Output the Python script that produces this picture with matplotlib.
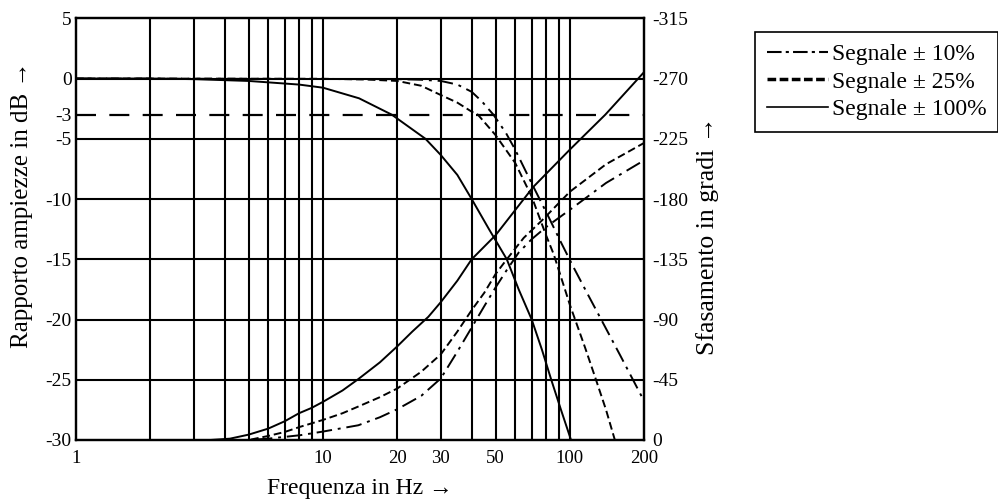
import matplotlib
matplotlib.use("Agg")
import matplotlib.pyplot as plt
from matplotlib.lines import Line2D

plt.rcParams['font.family'] = ['Liberation Serif', 'DejaVu Serif']

# magnitude (dB)
f_mag_100 = [1, 2, 3, 5, 8, 10, 14, 19, 26, 30, 35, 40, 47, 55.5, 62, 70, 77, 84, 92, 101]
mag_100 = [0, 0, -0.05, -0.2, -0.5, -0.76, -1.64, -3, -5, -6.35, -8.0, -10, -12.5, -15, -17.5, -20, -22.5, -25, -27.5, -30]

f_mag_25 = [1, 10, 15, 20, 25, 30, 35, 40, 42.4, 50, 60, 70, 80, 86, 100, 115, 127, 140, 152]
mag_25 = [0, -0.02, -0.08, -0.2, -0.6, -1.37, -2.0, -2.75, -3.0, -4.7, -7.0, -9.8, -13.0, -14.6, -18.8, -22.3, -24.9, -27.5, -30]

f_mag_10 = [1, 20, 25, 30, 35, 40, 44, 49, 55, 60, 70, 82, 92, 103, 118, 133, 160, 200]
mag_10 = [0, -0.05, -0.1, -0.2, -0.5, -1.1, -1.9, -3.0, -4.5, -5.9, -8.7, -11.5, -13.6, -15.6, -17.9, -19.9, -23.0, -26.8]

# phase (degrees)
f_ph_100 = [1, 3.5, 4.2, 5, 6, 7, 8, 9, 10, 12, 13.9, 17, 20, 23, 26.7, 30, 35, 40, 50, 71, 100, 139, 200]
ph_100 = [0, 0, -1, -4, -8.5, -14, -20, -24, -28.5, -37, -45.5, -58, -70, -81, -92, -103, -119, -135, -153, -189, -217, -243, -275]

f_ph_25 = [1, 5, 6, 7, 8.1, 10, 12, 13.9, 17, 20, 25, 30, 35, 40, 45, 50, 55.5, 65, 77, 100, 140, 200]
ph_25 = [0, 0, -3, -6, -9.9, -15, -20, -25, -32, -38.5, -51, -64, -81, -97, -110, -124, -135, -151, -164, -185.5, -206, -222]

f_ph_10 = [1, 5, 6, 8.1, 10, 13.9, 17, 20, 25, 30, 35, 40, 45, 50, 55.5, 62, 70, 80, 100, 140, 200]
ph_10 = [0, 0, -1, -3.6, -6.3, -11, -17, -23, -33, -46, -66, -84, -100, -114, -127, -140, -150, -159, -172, -192, -209]

labels = ['Segnale \u00b1 10%', 'Segnale \u00b1 25%', 'Segnale \u00b1 100%']
x_ticks = [1, 10, 20, 30, 50, 100, 200]
x_grid = [2, 3, 4, 5, 6, 7, 8, 9, 10, 20, 30, 40, 50, 60, 70, 80, 90, 100]
db_ticks = [5, 0, -3, -5, -10, -15, -20, -25, -30]
db_grid = [0, -5, -10, -15, -20, -25]
db_ref = -3
deg_ticks = [0, -45, -90, -135, -180, -225, -270, -315]

fig = plt.figure(figsize=(9.98, 5.04), dpi=100)
ax = fig.add_axes([76 / 998, 1 - 440 / 504, 568.3 / 998, 421.7 / 504])
ax.set_xscale('log')
ax.set_xlim(1, 200)
ax.set_ylim(-30, 5)

for xg in x_grid:
    ax.axvline(xg, color='black', lw=1.5, zorder=1)
for yg in db_grid:
    ax.axhline(yg, color='black', lw=1.5, zorder=1)
ax.axhline(db_ref, color='black', lw=1.6, dashes=(9, 6), zorder=1)

dashdot = (8, 3, 1.5, 3)
dashed = (4, 2)
ax.plot(f_mag_10, mag_10, color='black', lw=1.4, dashes=dashdot, zorder=3)
ax.plot(f_mag_25, mag_25, color='black', lw=1.4, dashes=dashed, zorder=3)
ax.plot(f_mag_100, mag_100, color='black', lw=1.4, zorder=3)

ax.set_xticks(x_ticks)
ax.set_xticklabels([str(x) for x in x_ticks])
ax.xaxis.set_minor_locator(plt.NullLocator())
ax.set_yticks(db_ticks)
ax.set_yticklabels([str(y) for y in db_ticks])
ax.tick_params(axis='y', length=0, labelsize=14, pad=3)
ax.tick_params(axis='x', length=0, labelsize=13.5, pad=7)
for s in ax.spines.values():
    s.set_linewidth(1.6)

ax2 = ax.twinx()
ax2.set_ylim(0, -315)
ax2.plot(f_ph_10, ph_10, color='black', lw=1.4, dashes=dashdot, zorder=3)
ax2.plot(f_ph_25, ph_25, color='black', lw=1.4, dashes=dashed, zorder=3)
ax2.plot(f_ph_100, ph_100, color='black', lw=1.4, zorder=3)
ax2.set_yticks(deg_ticks)
ax2.set_yticklabels([str(d) for d in deg_ticks])
ax2.tick_params(length=0, labelsize=14, pad=6)
for s in ax2.spines.values():
    s.set_linewidth(1.6)

ax.set_xlabel('Frequenza in Hz \u2192', fontsize=17)
ax.xaxis.set_label_coords(0.5, -0.09)
ax.set_ylabel('Rapporto ampiezze in dB \u2192', fontsize=18)
ax.yaxis.set_label_coords(-0.076, 0.557)
ax2.set_ylabel('Sfasamento in gradi \u2192', fontsize=18.5)
ax2.yaxis.set_label_coords(1.091, 0.484)

h1 = Line2D([], [], color='black', lw=1.5, dashes=(7, 2, 1.5, 2))
h2 = Line2D([], [], color='black', lw=2.5, dashes=(2.5, 1))
h3 = Line2D([], [], color='black', lw=1.2)
leg = fig.legend([h1, h2, h3], labels, loc='upper left', bbox_to_anchor=(755 / 998, 1 - 32 / 504),
                 fontsize=17, frameon=True, fancybox=False, edgecolor='black', framealpha=1,
                 handlelength=2.6, handletextpad=0.15, labelspacing=0.25, borderpad=0.5,
                 borderaxespad=0)
leg.get_frame().set_linewidth(1.2)

fig.savefig('out.png', dpi=100)
